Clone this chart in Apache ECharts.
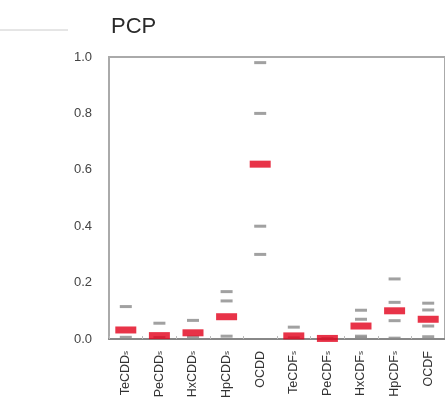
<!DOCTYPE html>
<html>
<head>
<meta charset="utf-8">
<script src="https://cdn.jsdelivr.net/npm/echarts@6/dist/echarts.min.js"></script>
<style>html,body{margin:0;padding:0;background:#fff;}#c{width:445px;height:405px;}</style>
</head>
<body>
<div id="c"></div>
<script>
var categories = ['TeCDDs','PeCDDs','HxCDDs','HpCDDs','OCDD','TeCDFs','PeCDFs','HxCDFs','HpCDFs','OCDF'];
var meanValues = [0.032, 0.012, 0.022, 0.079, 0.62, 0.011, 0.002, 0.046, 0.10, 0.07];
var sampleTeCDDs = [0.115, 0.006];
var samplePeCDDs = [0.056, 0.005];
var sampleHxCDDs = [0.066, 0.007];
var sampleHpCDDs = [0.168, 0.135, 0.01];
var sampleOCDD = [0.98, 0.80, 0.40, 0.30];
var sampleTeCDFs = [0.042, 0.004];
var samplePeCDFs = [0.001];
var sampleHxCDFs = [0.102, 0.07, 0.01, 0.004];
var sampleHpCDFs = [0.213, 0.13, 0.065, 0.003];
var sampleOCDF = [0.127, 0.103, 0.046, 0.008];
var yTicks = [0, 0.2, 0.4, 0.6, 0.8, 1.0];
var titleText = 'PCP';

var samples = [sampleTeCDDs, samplePeCDDs, sampleHxCDDs, sampleHpCDDs, sampleOCDD,
               sampleTeCDFs, samplePeCDFs, sampleHxCDFs, sampleHpCDFs, sampleOCDF];
var grayData = [];
samples.forEach(function (arr, i) {
  arr.forEach(function (v) { grayData.push([categories[i], v]); });
});
var redData = meanValues.map(function (v, i) { return [categories[i], v]; });

var chart = echarts.init(document.getElementById('c'), null, {renderer: 'canvas'});
chart.setOption({
  backgroundColor: '#fff',
  animation: false,
  title: {
    text: titleText, left: 106, top: 11,
    textStyle: {fontFamily: 'Liberation Sans', fontSize: 22, fontWeight: 'normal', color: '#2a2a2a'}
  },
  grid: {left: 109, top: 57, right: -9, bottom: 66, show: true, borderColor: '#aaa', borderWidth: 2},
  xAxis: {
    type: 'category', data: categories, boundaryGap: true,
    axisLine: {lineStyle: {color: '#888', width: 2}},
    axisTick: {show: true, inside: true, length: 3, lineStyle: {color: '#bbb'}},
    axisLabel: {
      rotate: 90, margin: 12, fontFamily: 'Liberation Sans', fontSize: 12.5, color: '#333',
      formatter: function (v) {
        if (v.charAt(v.length - 1) === 's') return v.slice(0, -1) + '{s|s}';
        return v;
      },
      rich: {s: {fontSize: 8, color: '#333', fontFamily: 'Liberation Sans'}}
    }
  },
  yAxis: {
    type: 'value', min: 0, max: 1.0, interval: 0.2,
    axisLine: {show: true, lineStyle: {color: '#aaa', width: 2}},
    axisTick: {show: false},
    splitLine: {show: false},
    axisLabel: {
      margin: 17, fontFamily: 'Liberation Sans', fontSize: 13, color: '#444',
      formatter: function (v) { return v.toFixed(1); }
    }
  },
  series: [
    {
      type: 'scatter', data: grayData, symbol: 'rect', symbolSize: [12, 3],
      itemStyle: {color: '#8a8a8a'}, z: 2
    },
    {
      type: 'scatter', data: redData, symbol: 'rect', symbolSize: [21, 7],
      itemStyle: {color: '#e2001a'}, z: 3
    }
  ],
  graphic: [
    {type: 'line', shape: {x1: 0, y1: 30, x2: 68, y2: 30}, style: {stroke: '#ccc', lineWidth: 1}}
  ]
});
</script>
</body>
</html>
